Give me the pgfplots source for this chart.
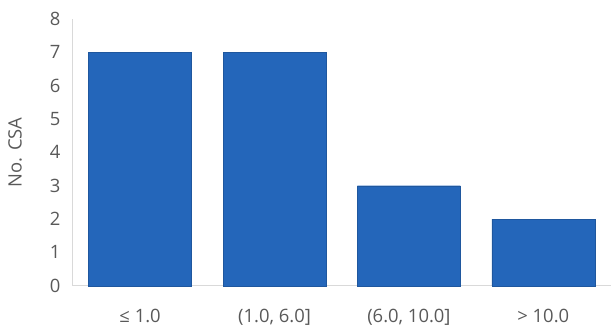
\documentclass[border=0pt]{standalone}
\usepackage{pgfplots}
\pgfplotsset{compat=1.18}
\usepackage{fontspec}
\setmainfont{Open Sans}
\definecolor{barblue}{HTML}{2466BA}
\definecolor{txtgray}{HTML}{595959}
\definecolor{axgray}{HTML}{D9D9D9}
\begin{document}
\begin{tikzpicture}
\begin{axis}[
  name=main,
  scale only axis,
  width=538bp, height=267bp,
  xmin=-0.5, xmax=3.5,
  ymin=0, ymax=8,
  ytick={0,1,...,8},
  xtick={0,1,2,3},
  xticklabels={{≤ 1.0},{(1.0, 6.0]},{(6.0, 10.0]},{> 10.0}},
  axis x line*=bottom,
  axis y line*=left,
  axis line style={axgray, line width=1bp},
  major tick length=0pt,
  tick label style={font=\fontsize{18.5}{21}\selectfont, text=txtgray},
  /pgf/number format/assume math mode=true,
  yticklabel style={xshift=-9bp},
  xticklabel style={yshift=-20bp},
  ylabel={No. CSA},
  ylabel style={font=\fontsize{18.5}{21}\selectfont, text=txtgray,
    at={([xshift=-58bp]axis description cs:0,0.5)}, anchor=center},
  clip=false,
]
\addplot[ybar, bar width=0.766, fill=barblue, draw=barblue!85!black, line width=0.4bp]
  coordinates {(0,7) (1,7) (2,3) (3,2)};
\end{axis}
\path[use as bounding box] ([xshift=-73bp,yshift=-40bp]main.south west) rectangle ([yshift=19bp]main.north east);
\end{tikzpicture}
\end{document}
